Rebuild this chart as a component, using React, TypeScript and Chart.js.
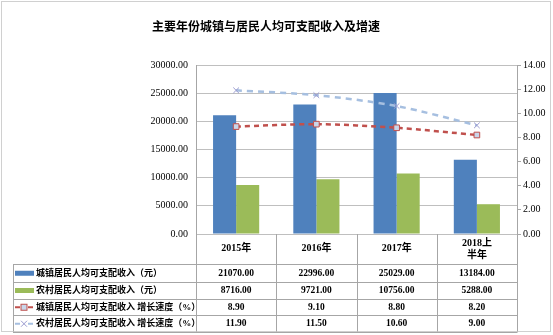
import React, { useEffect, useRef } from "react";
import { Chart, registerables } from "chart.js";

Chart.register(...registerables);

const title = "主要年份城镇与居民人均可支配收入及增速";
const categories: (string | string[])[] = ["2015年", "2016年", "2017年", ["2018上", "半年"]];
const seriesNames = [
  "城镇居民人均可支配收入（元）",
  "农村居民人均可支配收入（元）",
  "城镇居民人均可支配收入 增长速度（%）",
  "农村居民人均可支配收入 增长速度（%）",
];
const urbanIncome = [21070, 22996, 25029, 13184];
const ruralIncome = [8716, 9721, 10756, 5288];
const urbanGrowth = [8.9, 9.1, 8.8, 8.2];
const ruralGrowth = [11.9, 11.5, 10.6, 9.0];

const BLUE = "#4F81BD";
const GREEN = "#9BBB59";
const RED = "#C0504D";
const LIGHTBLUE = "#A6BFE0";
const SERIF = '"Liberation Serif", "Noto Sans CJK SC", serif';

const tablePlugin = {
  id: "dataTable",
  afterDraw(chart: any) {
    const ctx = chart.ctx as CanvasRenderingContext2D;
    const area = chart.chartArea;
    const x = chart.scales.x;
    const W = chart.width;
    ctx.save();
    // outer border
    ctx.strokeStyle = "#D0D0D0";
    ctx.lineWidth = 1;
    ctx.strokeRect(1.5, 1.5, W - 4, 331 - 1);
    // title
    ctx.fillStyle = "#000";
    ctx.font = `bold 12px ${SERIF}`;
    ctx.textAlign = "center";
    ctx.textBaseline = "middle";
    ctx.fillText(title, 266, 28);

    const n = categories.length;
    const step = (area.right - area.left) / n;
    const headerTop = area.bottom;
    const rowTops = [264, 281.5, 298.5, 315];
    const tableBottom = 331.5;
    const leftX = 13;
    ctx.strokeStyle = "#A6A6A6";
    ctx.lineWidth = 1;
    ctx.beginPath();
    // vertical lines
    for (let i = 0; i <= n; i++) {
      const vx = Math.round(area.left + step * i) + 0.5;
      ctx.moveTo(vx, headerTop);
      ctx.lineTo(vx, tableBottom);
    }
    ctx.moveTo(leftX + 0.5, rowTops[0]);
    ctx.lineTo(leftX + 0.5, tableBottom);
    // horizontal lines
    for (const ry of [...rowTops, tableBottom]) {
      const yy = Math.round(ry) + 0.5;
      ctx.moveTo(leftX, yy);
      ctx.lineTo(area.right + 0.5, yy);
    }
    ctx.stroke();

    // header labels
    ctx.fillStyle = "#000";
    ctx.font = `bold 10px ${SERIF}`;
    for (let i = 0; i < n; i++) {
      const cx = x.getPixelForValue(i);
      const lab = categories[i];
      if (Array.isArray(lab)) {
        ctx.fillText(lab[0], cx, 243);
        ctx.fillText(lab[1], cx, 255.5);
      } else {
        ctx.fillText(lab, cx, 248.5);
      }
    }
    // rows
    const rows = [urbanIncome, ruralIncome, urbanGrowth, ruralGrowth];
    for (let r = 0; r < rows.length; r++) {
      const top = rowTops[r];
      const bottom = r + 1 < rowTops.length ? rowTops[r + 1] : tableBottom;
      const cy = (top + bottom) / 2 + 0.5;
      ctx.font = `bold 9.5px ${SERIF}`;
      ctx.textAlign = "center";
      for (let i = 0; i < n; i++) {
        ctx.fillText(rows[r][i].toFixed(2), x.getPixelForValue(i), cy);
      }
      // legend key
      if (r === 0 || r === 1) {
        ctx.fillStyle = r === 0 ? BLUE : GREEN;
        ctx.fillRect(15, cy - 2.5, 19, 5);
      } else if (r === 2) {
        ctx.strokeStyle = RED;
        ctx.lineWidth = 2;
        ctx.beginPath();
        ctx.moveTo(15, cy);
        ctx.lineTo(20, cy);
        ctx.moveTo(28, cy);
        ctx.lineTo(33, cy);
        ctx.stroke();
        ctx.fillStyle = "#C9D6EA";
        ctx.fillRect(21, cy - 3, 6, 6);
        ctx.lineWidth = 1;
        ctx.strokeRect(21, cy - 3, 6, 6);
      } else {
        ctx.strokeStyle = LIGHTBLUE;
        ctx.lineWidth = 2;
        ctx.beginPath();
        ctx.moveTo(15, cy);
        ctx.lineTo(20, cy);
        ctx.moveTo(28, cy);
        ctx.lineTo(33, cy);
        ctx.stroke();
        ctx.strokeStyle = "#9A9ACF";
        ctx.lineWidth = 1;
        ctx.beginPath();
        ctx.moveTo(21, cy - 3);
        ctx.lineTo(27, cy + 3);
        ctx.moveTo(27, cy - 3);
        ctx.lineTo(21, cy + 3);
        ctx.stroke();
      }
      ctx.fillStyle = "#000";
      ctx.font = `bold 9px ${SERIF}`;
      ctx.textAlign = "left";
      ctx.fillText(seriesNames[r], 36, cy);
      ctx.textAlign = "center";
    }
    ctx.restore();
  },
};

export default function App() {
  const ref = useRef<HTMLCanvasElement>(null);
  useEffect(() => {
    document.body.style.margin = "0";
    const canvas = ref.current!;
    const chart = new Chart(canvas, {
      type: "bar",
      data: {
        labels: categories as any,
        datasets: [
          {
            type: "line",
            label: seriesNames[2],
            data: urbanGrowth,
            yAxisID: "y1",
            borderColor: RED,
            borderWidth: 2.5,
            borderDash: [5, 4],
            pointStyle: "rect",
            pointRadius: 4,
            pointBackgroundColor: "#C9D6EA",
            pointBorderColor: RED,
            pointBorderWidth: 1,
            tension: 0.3,
            order: 0,
          } as any,
          {
            type: "line",
            label: seriesNames[3],
            data: ruralGrowth,
            yAxisID: "y1",
            borderColor: LIGHTBLUE,
            borderWidth: 2.5,
            borderDash: [6, 5],
            pointStyle: "crossRot",
            pointRadius: 4,
            pointBorderColor: "#9A9ACF",
            pointBorderWidth: 1,
            tension: 0.3,
            order: 1,
          } as any,
          {
            label: seriesNames[0],
            data: urbanIncome,
            backgroundColor: BLUE,
            yAxisID: "y",
            categoryPercentage: 0.575,
            barPercentage: 1,
            order: 2,
          },
          {
            label: seriesNames[1],
            data: ruralIncome,
            backgroundColor: GREEN,
            yAxisID: "y",
            categoryPercentage: 0.575,
            barPercentage: 1,
            order: 3,
          },
        ],
      },
      options: {
        responsive: false,
        animation: false,
        layout: { padding: { left: 0, right: 0, top: 65, bottom: 101 } },
        plugins: { legend: { display: false }, title: { display: false }, tooltip: { enabled: false } },
        scales: {
          x: { display: false },
          y: {
            position: "left",
            min: 0,
            max: 30000,
            ticks: {
              stepSize: 5000,
              callback: (v: any) => Number(v).toFixed(2),
              font: { family: SERIF, size: 10 },
              color: "#000",
              padding: 8,
            },
            grid: { color: "#BFBFBF", drawTicks: false },
            border: { display: true, color: "#A6A6A6" },
            afterFit: (s: any) => {
              s.width = 196;
            },
          },
          y1: {
            position: "right",
            min: 0,
            max: 14,
            ticks: {
              stepSize: 2,
              callback: (v: any) => Number(v).toFixed(2),
              font: { family: SERIF, size: 10 },
              color: "#000",
              padding: 2,
            },
            grid: { drawOnChartArea: false, tickLength: 4, color: "#A6A6A6" },
            border: { display: true, color: "#A6A6A6" },
            afterFit: (s: any) => {
              s.width = 36;
            },
          },
        },
      },
      plugins: [tablePlugin],
    });
    return () => chart.destroy();
  }, []);
  return <canvas ref={ref} width={553} height={335} style={{ display: "block" }} />;
}
